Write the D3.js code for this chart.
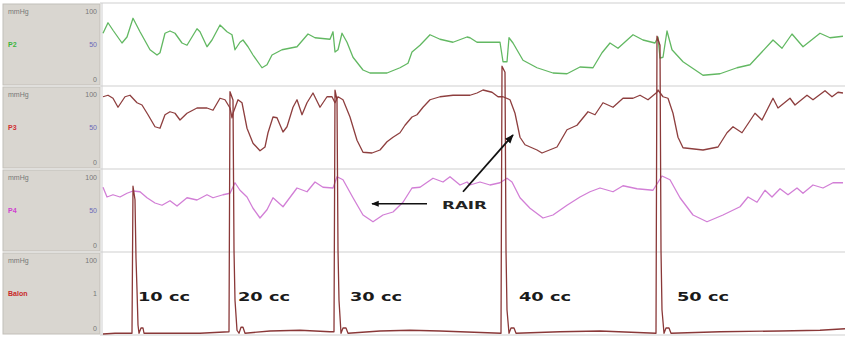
<!DOCTYPE html>
<html>
<head>
<meta charset="utf-8">
<script src="https://cdn.jsdelivr.net/npm/d3@7"></script>
<style>
  body { margin: 0; background: #fff; }
  svg { display: block; }
</style>
</head>
<body>
<div class="chart"></div>
<script>
// channel names and colours
var channels = ["P2", "P3", "P4", "Balon"];
var channelColors = ["#62b862", "#8e3f3f", "#d27fd6", "#8a3838"];
var labelColors = ["#3cb43c", "#d03030", "#d040d0", "#c82828"];
var midLabels = ["50", "50", "50", "1"];

// traces as [time, mmHg]
var p2 = [[0,65],[5,79],[10,69],[19,52],[24,60],[30,85],[37,67],[47,43],[54,36],[57,39],[62,65],[67,68],[72,65],[79,52],[84,49],[94,71],[97,67],[104,47],[109,56],[117,76],[124,67],[129,63],[132,43],[137,53],[140,56],[145,47],[150,36],[159,19],[164,23],[169,36],[179,43],[194,47],[205,64],[212,59],[227,57],[230,67],[232,40],[235,43],[239,65],[244,53],[250,33],[260,16],[267,12],[284,12],[297,19],[305,25],[309,40],[317,49],[327,63],[337,57],[350,53],[364,60],[367,59],[374,53],[380,53],[397,53],[400,27],[404,27],[406,59],[410,52],[420,29],[434,19],[450,12],[464,11],[477,20],[490,19],[499,39],[507,52],[515,45],[530,63],[540,56],[552,52],[555,60],[557,32],[560,33],[564,68],[569,43],[580,27],[600,9],[617,11],[634,19],[647,23],[654,33],[670,56],[679,45],[689,64],[700,47],[717,65],[727,59],[740,61]];

var p3 = [[0,91],[5,93],[10,89],[15,77],[22,91],[27,93],[34,83],[39,80],[45,67],[52,51],[57,49],[62,67],[67,71],[72,69],[77,60],[84,69],[94,76],[104,76],[110,73],[117,89],[122,87],[127,76],[129,63],[130,69],[135,87],[139,83],[144,49],[150,29],[157,19],[162,24],[165,43],[170,64],[174,63],[180,44],[184,51],[190,77],[194,87],[199,67],[204,83],[210,96],[217,77],[224,91],[229,91],[232,83],[235,91],[240,87],[247,64],[254,33],[260,17],[269,16],[277,20],[284,31],[290,37],[297,43],[302,53],[309,64],[314,67],[320,77],[327,87],[337,91],[350,93],[360,93],[367,93],[374,96],[380,100],[389,97],[395,91],[400,91],[407,87],[412,69],[417,37],[422,27],[434,20],[439,16],[454,24],[464,47],[474,53],[485,71],[492,67],[500,83],[510,77],[520,89],[530,89],[537,93],[545,87],[554,97],[555,100],[560,91],[565,89],[570,69],[575,37],[580,23],[600,20],[615,24],[624,43],[630,51],[639,43],[652,69],[659,60],[670,89],[675,76],[687,89],[692,80],[704,93],[710,87],[722,99],[729,91],[735,97],[740,96]];

var p4 = [[0,81],[4,68],[10,71],[17,68],[24,73],[30,76],[37,75],[44,67],[52,60],[59,57],[67,63],[74,56],[84,67],[94,64],[104,71],[110,67],[120,71],[127,73],[132,87],[137,77],[144,68],[150,53],[157,40],[164,51],[170,67],[180,55],[194,80],[204,75],[212,88],[220,81],[230,80],[234,95],[240,91],[250,67],[260,44],[270,35],[280,44],[290,48],[300,61],[309,80],[317,81],[330,93],[340,88],[347,95],[357,84],[364,88],[367,84],[377,88],[387,84],[397,87],[404,93],[409,88],[417,67],[427,53],[440,40],[450,44],[464,57],[477,68],[487,75],[497,80],[510,75],[520,83],[534,79],[550,77],[559,96],[567,91],[577,67],[590,44],[604,35],[620,44],[637,55],[645,68],[654,61],[662,77],[669,68],[677,79],[685,71],[694,80],[700,73],[710,84],[720,80],[730,87],[740,87]];

var balon = [[0,-4],[12,-3],[29,-3],[30,193],[32,175],[33,97],[34,55],[35,8],[36,-3],[38,4],[40,4],[41,-3],[57,-3],[97,-3],[126,-1],[127,319],[130,308],[131,108],[132,41],[134,1],[136,-3],[138,5],[140,5],[142,-3],[167,0],[197,1],[227,-1],[231,-1],[232,321],[234,308],[235,108],[236,41],[238,-3],[240,4],[243,4],[245,-3],[277,0],[307,1],[337,0],[398,-3],[399,353],[402,345],[403,108],[404,28],[406,-3],[408,4],[411,4],[413,-3],[457,-1],[497,0],[553,-3],[554,393],[557,381],[558,108],[559,28],[561,-3],[563,4],[566,4],[568,-3],[617,-1],[677,0],[717,1],[742,3]];

// balloon volumes
var ccLabels = ["10 cc", "20 cc", "30 cc", "40 cc", "50 cc"];
var ccTimes = [35, 135, 247, 416, 574];

var traces = [p2, p3, p4, balon];

var width = 845, height = 337;
var plotLeft = 103;
var rowTop = 3, rowH = 83;

var svg = d3.select(".chart").append("svg")
  .attr("width", width)
  .attr("height", height);

var xScale = d3.scaleLinear()
  .domain([0, 742])
  .range([plotLeft, width]);

var yScales = channels.map(function (c, i) {
  var top = rowTop + i * rowH;
  return d3.scaleLinear().domain([0, 100]).range([top + 79, top + 4]);
});

// left label panels
var panels = svg.selectAll(".panel")
  .data(channels)
  .enter()
  .append("g")
  .attr("class", "panel")
  .attr("transform", function (d, i) { return "translate(3," + (rowTop + i * rowH + 1) + ")"; });

panels.append("rect")
  .attr("width", 97)
  .attr("height", 81)
  .attr("fill", "#d9d6d0")
  .attr("stroke", "#c2bfb9");

panels.append("text")
  .attr("x", 5).attr("y", 10)
  .attr("font-family", "Arial, Liberation Sans, sans-serif")
  .attr("font-size", 7)
  .attr("fill", "#777")
  .text("mmHg");

panels.append("text")
  .attr("x", 94).attr("y", 10)
  .attr("text-anchor", "end")
  .attr("font-family", "Arial, Liberation Sans, sans-serif")
  .attr("font-size", 7)
  .attr("fill", "#777")
  .text("100");

panels.append("text")
  .attr("x", 5).attr("y", 43)
  .attr("font-family", "Arial, Liberation Sans, sans-serif")
  .attr("font-size", 7)
  .attr("font-weight", "bold")
  .attr("fill", function (d, i) { return labelColors[i]; })
  .text(function (d) { return d; });

panels.append("text")
  .attr("x", 94).attr("y", 43)
  .attr("text-anchor", "end")
  .attr("font-family", "Arial, Liberation Sans, sans-serif")
  .attr("font-size", 7)
  .attr("fill", function (d, i) { return i < 3 ? "#6a6ab8" : "#777"; })
  .text(function (d, i) { return midLabels[i]; });

panels.append("text")
  .attr("x", 94).attr("y", 78)
  .attr("text-anchor", "end")
  .attr("font-family", "Arial, Liberation Sans, sans-serif")
  .attr("font-size", 7)
  .attr("fill", "#777")
  .text("0");

// row separators
svg.selectAll(".sep")
  .data(d3.range(channels.length + 1))
  .enter()
  .append("line")
  .attr("class", "sep")
  .attr("x1", 100).attr("x2", width)
  .attr("y1", function (d) { return rowTop + d * rowH; })
  .attr("y2", function (d) { return rowTop + d * rowH; })
  .attr("stroke", "#cfcfcf");

svg.append("line")
  .attr("x1", plotLeft - 1).attr("x2", plotLeft - 1)
  .attr("y1", rowTop).attr("y2", rowTop + 4 * rowH)
  .attr("stroke", "#cfcfcf");

// traces
traces.forEach(function (data, i) {
  var line = d3.line()
    .x(function (d) { return xScale(d[0]); })
    .y(function (d) { return yScales[i](d[1]); });
  svg.append("path")
    .datum(data)
    .attr("d", line)
    .attr("fill", "none")
    .attr("stroke", channelColors[i])
    .attr("stroke-width", 1.3)
    .attr("stroke-linejoin", "round");
});

// volume labels
svg.selectAll(".cc")
  .data(ccLabels)
  .enter()
  .append("text")
  .attr("class", "cc")
  .attr("x", function (d, i) { return xScale(ccTimes[i]); })
  .attr("y", yScales[3](40))
  .attr("font-family", "DejaVu Sans, sans-serif")
  .attr("font-weight", "bold")
  .attr("font-size", 12)
  .attr("textLength", 52)
  .attr("lengthAdjust", "spacingAndGlyphs")
  .attr("fill", "#1a1a1a")
  .text(function (d) { return d; });

// RAIR annotation
svg.append("defs").append("marker")
  .attr("id", "head")
  .attr("viewBox", "0 0 10 10")
  .attr("refX", 9).attr("refY", 5)
  .attr("markerWidth", 5).attr("markerHeight", 5)
  .attr("orient", "auto")
  .append("path")
  .attr("d", "M0,1L10,5L0,9Z")
  .attr("fill", "#111");

svg.append("line")
  .attr("x1", xScale(324)).attr("y1", yScales[2](59))
  .attr("x2", xScale(269)).attr("y2", yScales[2](59))
  .attr("stroke", "#111").attr("stroke-width", 1.5)
  .attr("marker-end", "url(#head)");

svg.append("line")
  .attr("x1", xScale(360)).attr("y1", yScales[2](75))
  .attr("x2", xScale(410)).attr("y2", yScales[1](40))
  .attr("stroke", "#111").attr("stroke-width", 1.8)
  .attr("marker-end", "url(#head)");

svg.append("text")
  .attr("x", xScale(339))
  .attr("y", yScales[2](52))
  .attr("font-family", "DejaVu Sans, sans-serif")
  .attr("font-weight", "bold")
  .attr("font-size", 11)
  .attr("textLength", 45)
  .attr("lengthAdjust", "spacingAndGlyphs")
  .attr("fill", "#222")
  .text("RAIR");
</script>
</body>
</html>
